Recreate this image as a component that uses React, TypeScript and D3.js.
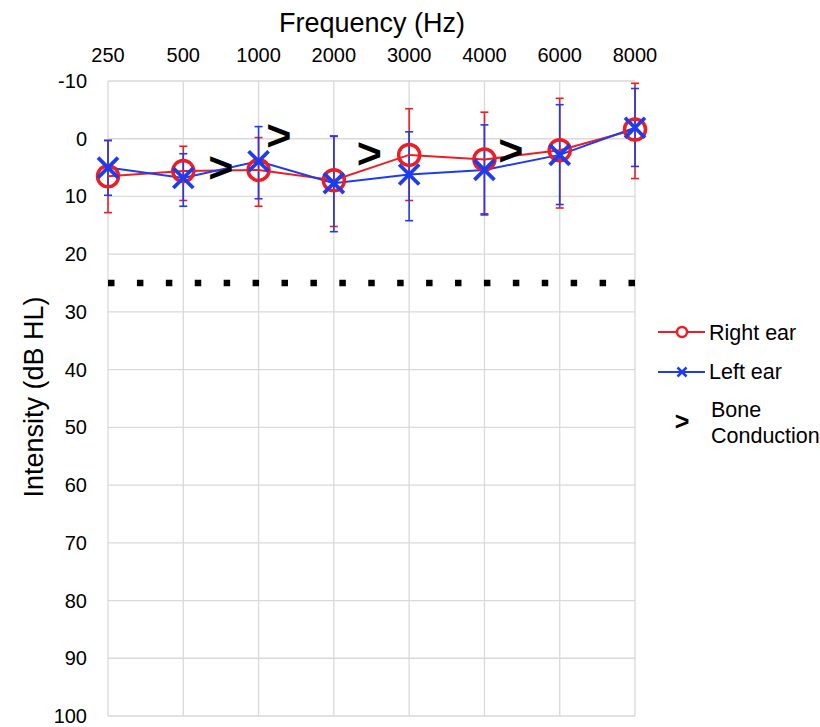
import React from 'react'
import * as d3 from 'd3'

const frequencies = ['250', '500', '1000', '2000', '3000', '4000', '6000', '8000']
const rightEar = [6.5, 5.6, 5.4, 7.2, 2.8, 3.6, 2.0, -1.6]
const rightLow = [0.3, 1.3, -0.2, -0.5, -5.2, -4.6, -7.0, -9.6]
const rightHigh = [12.8, 10.7, 11.7, 15.2, 10.7, 13.0, 12.0, 6.9]
const leftEar = [5.0, 6.8, 3.9, 7.7, 6.2, 5.4, 2.8, -1.9]
const leftLow = [0.3, 2.6, -2.1, -0.4, -1.2, -2.4, -5.9, -8.7]
const leftHigh = [9.8, 11.7, 10.4, 16.1, 14.2, 13.2, 11.4, 4.8]
// bone conduction marks sit between the frequency columns (position = column index)
const bonePos = [1.5, 2.27, 3.47, 5.35]
const boneLevel = [5.4, -0.2, 2.9, 2.3]
const yTicks = [-10, 0, 10, 20, 30, 40, 50, 60, 70, 80, 90, 100]
const normalLimit = 25

const RED = '#ee1d23'
const BLUE = '#1d3cf0'
const GRID = '#d9d9d9'
const FONT = '"Liberation Sans", Arial, sans-serif'

export default function App() {
  const W = 820
  const H = 727
  const margin = { top: 81, left: 108, right: 185, bottom: 11 }
  const innerW = W - margin.left - margin.right
  const innerH = H - margin.top - margin.bottom

  const x = d3.scalePoint<string>().domain(frequencies).range([0, innerW])
  const xi = d3.scaleLinear().domain([0, frequencies.length - 1]).range([0, innerW])
  const y = d3.scaleLinear().domain([-10, 100]).range([0, innerH])

  const line = d3.line<number>()
    .x((_, i) => x(frequencies[i]) as number)
    .y((d) => y(d))

  const dot = 6.5
  const period = (innerW - dot) / 18

  const errorBars = (lo: number[], hi: number[], color: string) =>
    frequencies.map((f, i) => {
      const cx = x(f) as number
      return (
        <g key={f} stroke={color} strokeWidth={1.6}>
          <line x1={cx} x2={cx} y1={y(lo[i])} y2={y(hi[i])} />
          <line x1={cx - 4} x2={cx + 4} y1={y(lo[i])} y2={y(lo[i])} />
          <line x1={cx - 4} x2={cx + 4} y1={y(hi[i])} y2={y(hi[i])} />
        </g>
      )
    })

  const cross = (cx: number, cy: number, s: number, w: number) => (
    <g stroke={BLUE} strokeWidth={w}>
      <line x1={cx - s} x2={cx + s} y1={cy - s} y2={cy + s} />
      <line x1={cx - s} x2={cx + s} y1={cy + s} y2={cy - s} />
    </g>
  )

  return (
    <svg width={W} height={H} style={{ position: 'absolute', left: 0, top: 0, background: '#fff' }} fontFamily={FONT}>
      <text x={372} y={32} fontSize={27} textAnchor="middle">Frequency (Hz)</text>
      <text transform={`translate(43,397) rotate(-90)`} fontSize={27} textAnchor="middle">Intensity (dB HL)</text>

      <g transform={`translate(${margin.left},${margin.top})`}>
        {yTicks.map((t) => (
          <g key={t}>
            <line x1={0} x2={innerW} y1={y(t)} y2={y(t)} stroke={GRID} strokeWidth={1.3} />
            <text x={-21} y={y(t) + 7} fontSize={20} textAnchor="end">{t}</text>
          </g>
        ))}
        {frequencies.map((f) => (
          <g key={f}>
            <line x1={x(f)} x2={x(f)} y1={0} y2={innerH} stroke={GRID} strokeWidth={1.3} />
            <text x={x(f)} y={-19} fontSize={20} textAnchor="middle">{f}</text>
          </g>
        ))}

        <line x1={0} x2={innerW} y1={y(normalLimit)} y2={y(normalLimit)} stroke="#000"
          strokeWidth={dot} strokeDasharray={`${dot} ${period - dot}`} />

        {errorBars(rightLow, rightHigh, RED)}
        {errorBars(leftLow, leftHigh, BLUE)}

        <path d={line(rightEar) ?? ''} fill="none" stroke={RED} strokeWidth={2} />
        <path d={line(leftEar) ?? ''} fill="none" stroke={BLUE} strokeWidth={2} />

        {rightEar.map((v, i) => (
          <circle key={i} cx={x(frequencies[i])} cy={y(v)} r={10.5} fill="none" stroke={RED} strokeWidth={3.5} />
        ))}
        {leftEar.map((v, i) => (
          <g key={i}>{cross(x(frequencies[i]) as number, y(v), 10, 3.8)}</g>
        ))}

        {bonePos.map((p, i) => (
          <text key={i} x={xi(p)} y={y(boneLevel[i]) + 12.5} fontSize={43} fontWeight="bold" textAnchor="middle">&gt;</text>
        ))}
      </g>

      <g fontSize={21.5}>
        <line x1={658} x2={705} y1={332} y2={332} stroke={RED} strokeWidth={2} />
        <circle cx={682} cy={332} r={5} fill="#fff" stroke={RED} strokeWidth={2.5} />
        <text x={709} y={340}>Right ear</text>

        <line x1={658} x2={705} y1={372} y2={372} stroke={BLUE} strokeWidth={2} />
        {cross(682, 372, 4.5, 2.5)}
        <text x={709} y={379}>Left ear</text>

        <text x={682} y={430} fontSize={25} fontWeight="bold" textAnchor="middle">&gt;</text>
        <text x={711} y={417}>Bone</text>
        <text x={711} y={443}>Conduction</text>
      </g>
    </svg>
  )
}
